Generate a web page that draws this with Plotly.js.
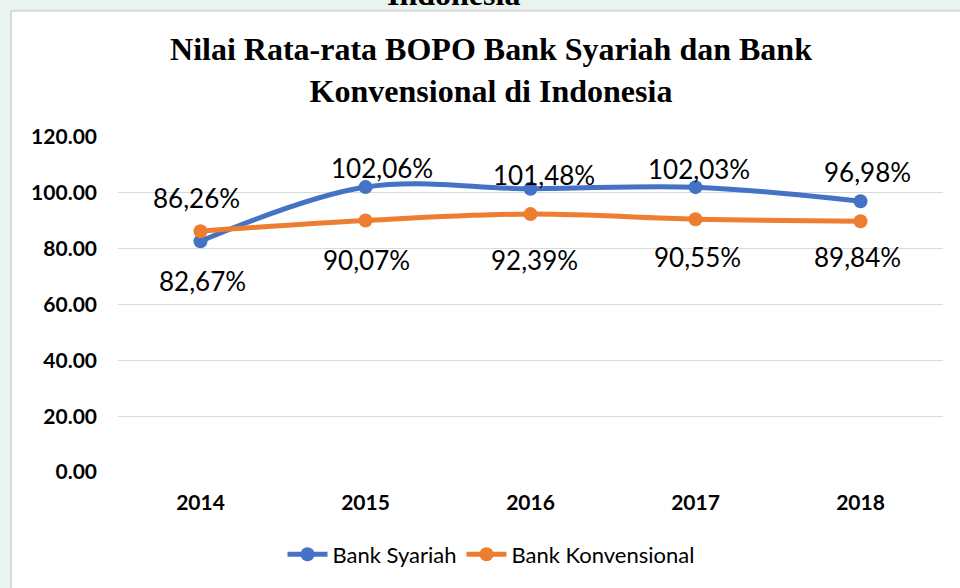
<!DOCTYPE html>
<html>
<head>
<meta charset="utf-8">
<script src="https://cdn.plot.ly/plotly-3.0.1.min.js"></script>
<style>html,body{margin:0;padding:0;background:#eaf4ee;}#chart{width:960px;height:588px;}</style>
</head>
<body>
<div id="chart"></div>
<script>
// ---- data ----
const years = [2014, 2015, 2016, 2017, 2018];
const syariah = [82.67, 102.06, 101.48, 102.03, 96.98];
const konvensional = [86.26, 90.07, 92.39, 90.55, 89.84];
const yTicks = [0, 20, 40, 60, 80, 100, 120];

// ---- label offsets (px) ----
const syariahShiftY = [-40, 19, 14, 18, 29];
const syariahShiftX = [2, 16, 13, 3, 7];
const konvShiftY = [33, -39, -46, -38, -36];
const konvShiftX = [-4, 1, 4, 2, -3];

const blue = '#4472C4', orange = '#ED7D31';
const fmt = v => v.toFixed(2).replace('.', ',') + '%';

const traces = [
  {x: years, y: syariah, name: 'Bank Syariah', type: 'scatter', mode: 'lines+markers',
   line: {color: blue, width: 5, shape: 'spline', smoothing: 1}, marker: {color: blue, size: 14}},
  {x: years, y: konvensional, name: 'Bank Konvensional', type: 'scatter', mode: 'lines+markers',
   line: {color: orange, width: 5, shape: 'spline', smoothing: 1}, marker: {color: orange, size: 14}}
];

const labelFont = {family: 'Lato, sans-serif', size: 26, color: '#000'};
const annotations = [];
years.forEach((yr, i) => {
  annotations.push({x: yr, y: syariah[i], xref: 'x', yref: 'y', text: fmt(syariah[i]), showarrow: false,
    yshift: syariahShiftY[i], xshift: syariahShiftX[i], font: labelFont, yanchor: 'middle', xanchor: 'center'});
  annotations.push({x: yr, y: konvensional[i], xref: 'x', yref: 'y', text: fmt(konvensional[i]), showarrow: false,
    yshift: konvShiftY[i], xshift: konvShiftX[i], font: labelFont, yanchor: 'middle', xanchor: 'center'});
});
// cropped heading from the page above the chart
annotations.push({xref: 'paper', yref: 'paper', x: (453 - 118) / 825, y: (474 - 13) / 337, xanchor: 'center', yanchor: 'bottom',
  text: '<b>Indonesia</b>', showarrow: false, font: {family: '"Liberation Serif", "Times New Roman", serif', size: 32, color: '#000'}});

const layout = {
  width: 960, height: 588,
  margin: {l: 118, r: 17, t: 137, b: 114},
  paper_bgcolor: '#eaf4ee',
  plot_bgcolor: 'rgba(0,0,0,0)',
  title: {
    text: '<b>Nilai Rata-rata BOPO Bank Syariah dan Bank<br>Konvensional di Indonesia</b>',
    x: 491 / 960, xref: 'container', xanchor: 'center',
    y: 1 - 60 / 588, yref: 'container', yanchor: 'middle',
    font: {family: '"Liberation Serif", "Times New Roman", serif', size: 32, color: '#000'}
  },
  xaxis: {
    type: 'linear', range: [2013.5, 2018.5], tickvals: years, tickformat: 'd',
    showgrid: false, zeroline: false, showline: false,
    ticks: '', ticklabelstandoff: 16,
    tickfont: {family: 'Lato, sans-serif', size: 21, color: '#000', weight: 'bold'},
    fixedrange: true
  },
  yaxis: {
    range: [0, 120], tickvals: yTicks, tickformat: '.2f',
    showgrid: true, gridcolor: '#d9d9d9', gridwidth: 1.3, zeroline: false, showline: false,
    ticks: '', ticklabelstandoff: 20,
    tickfont: {family: 'Lato, sans-serif', size: 21, color: '#000', weight: 'bold'},
    fixedrange: true
  },
  showlegend: true,
  legend: {
    orientation: 'h', x: (491 - 118) / 825, xanchor: 'center', y: (474 - 557) / 337, yanchor: 'middle',
    font: {family: 'Lato, sans-serif', size: 22, color: '#000'}, bgcolor: 'rgba(0,0,0,0)',
    itemwidth: 40, tracegroupgap: 0
  },
  shapes: [{
    type: 'rect', xref: 'paper', yref: 'paper', layer: 'below',
    x0: -(118 - 11) / 825, x1: (960 - 118 + 10) / 825,
    y0: -(588 - 474 + 10) / 337, y1: (474 - 10) / 337,
    fillcolor: '#ffffff', line: {color: '#d9d9d9', width: 2}
  }],
  annotations: annotations
};

Plotly.newPlot('chart', traces, layout, {displayModeBar: false, staticPlot: true});
</script>
</body>
</html>
